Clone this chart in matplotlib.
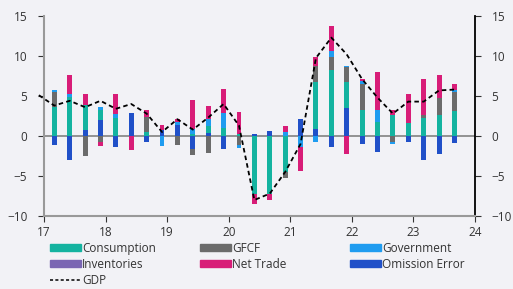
import numpy as np
import matplotlib
matplotlib.use("Agg")
import matplotlib.pyplot as plt
from matplotlib.patches import Patch
from matplotlib.lines import Line2D

plt.rcParams['font.family'] = ['Open Sans', 'DejaVu Sans']

# quarters 2017Q1 .. 2023Q3, contributions in percentage points
years = [2017] * 4 + [2018] * 4 + [2019] * 4 + [2020] * 4 + [2021] * 4 + [2022] * 4 + [2023] * 3
quarters = [1, 2, 3, 4] * 6 + [1, 2, 3]

omission = [-1.1, -3.0, 0.75, 2.0, -1.4, 2.9, -0.7, 0.7, 1.4, -1.6, 0.4, -1.6, 0, 0.25,
            0.65, 0, 2.15, 0.9, -1.4, 3.5, -1.0, -2.0, 0, -0.8, -3.0, -2.25, -0.9]
consumption = [3.6, 4.9, 3.1, 1.3, 2.3, 0, 0.55, 0, 0, 0.3, 0.8, 1.0, 0.3, -7.2,
               -7.2, -4.5, 0, 5.8, 8.2, 3.2, 3.2, 1.7, 2.6, 1.6, 2.3, 2.6, 3.1]
gfcf = [1.85, 0, -2.55, -0.7, 0, 0, 1.85, 0, -1.15, -0.8, -2.1, 0, -1.15, 0,
        0, -0.8, 0, 2.1, 1.65, 1.95, 3.3, 0, -0.8, 0, 0.3, 2.1, 2.4]
government = [0.33, 0.4, 0, 0.33, 0.4, 0, 0, -1.3, 0.3, 0.6, 0.95, 1.85, -0.4, 0,
              0, 0.5, -1.35, -0.8, 0.75, 0.1, 0.4, 1.5, -0.2, 0, 0, 0, 0.2]
inventories = [0] * 27
net_trade = [0, 2.3, 1.4, -0.6, 2.55, -1.75, 0.9, 0.7, 0.4, 3.6, 1.65, 3.0, 2.75, -1.25,
             -0.8, 0.7, -3.0, 1.1, 3.1, -2.2, 0.25, 4.8, 0.7, 3.6, 4.5, 2.9, 0.8]

# GDP line starts one quarter earlier (2016Q4)
gdp_years = [2016] + years
gdp_quarters = [4] + quarters
gdp = [5.1, 3.8, 4.4, 3.6, 4.4, 3.4, 4.0, 2.8, 0.5, 2.1, 0.8, 2.3, 4.0, 1.3,
       -8.0, -7.2, -4.5, -1.0, 9.75, 12.3, 10.2, 7.1, 4.8, 2.8, 4.3, 4.3, 5.7, 5.8]

c_cons = '#14b3a0'
c_gfcf = '#6b6b6b'
c_gov = '#1f9cf0'
c_inv = '#7a66b3'
c_nt = '#d81d78'
c_om = '#2050c8'
bg = '#f2f2f6'


def xpos(y, q):
    return (np.array(y) - 2000) + (3 * np.array(q) - 1) / 12.0


x = xpos(years, quarters)
xg = xpos(gdp_years, gdp_quarters)

fig = plt.figure(figsize=(5.13, 2.89), dpi=100, facecolor=bg)
ax = fig.add_axes([44 / 513, 1 - 216 / 289, 431 / 513, 200 / 289])
ax.set_facecolor(bg)

series = [(omission, c_om), (consumption, c_cons), (gfcf, c_gfcf),
          (government, c_gov), (inventories, c_inv), (net_trade, c_nt)]
pos = np.zeros(len(x))
neg = np.zeros(len(x))
for vals, col in series:
    v = np.array(vals, dtype=float)
    bottom = np.where(v >= 0, pos, neg)
    ax.bar(x, v, bottom=bottom, width=0.08, color=col, linewidth=0, zorder=2)
    pos = pos + np.clip(v, 0, None)
    neg = neg + np.clip(v, None, 0)

ax.axhline(0, color='#8a8a8a', lw=1.3, zorder=1)
ax.plot(xg, gdp, color='black', lw=1.3, ls=(0, (2.5, 1.8)), zorder=3, clip_on=False)

ax.set_xlim(17, 24)
ax.set_ylim(-10, 15)
ax.set_xticks(range(17, 25))
ax.set_yticks([-10, -5, 0, 5, 10, 15])
ax.tick_params(axis='both', labelsize=8.5, colors='#333333', length=4)
ax.tick_params(axis='y', right=True, labelright=True, pad=8)
ax.tick_params(axis='x', pad=3)

for s in ['top']:
    ax.spines[s].set_visible(False)
ax.spines['left'].set_color('#999999')
ax.spines['bottom'].set_color('#999999')
ax.spines['left'].set_linewidth(1.5)
ax.spines['bottom'].set_linewidth(1.5)
ax.spines['right'].set_color('black')
ax.spines['right'].set_linewidth(1.3)

cols = [
    [Patch(color=c_cons, label='Consumption'), Patch(color=c_inv, label='Inventories'),
     Line2D([], [], color='black', lw=1.1, ls=(0, (2, 1.5)), label='GDP')],
    [Patch(color=c_gfcf, label='GFCF'), Patch(color=c_nt, label='Net Trade')],
    [Patch(color=c_gov, label='Government'), Patch(color=c_om, label='Omission Error')],
]
xs = [44, 194, 344]
for xl, hs in zip(xs, cols):
    fig.legend(handles=hs, loc='upper left', bbox_to_anchor=(xl / 513, 1 - 236 / 289),
               frameon=False, fontsize=8.5, handlelength=2.6, handleheight=0.6,
               handletextpad=0.1, labelspacing=0.25, borderpad=0, labelcolor='#333333')

fig.savefig('out.png', dpi=100, facecolor=bg)
